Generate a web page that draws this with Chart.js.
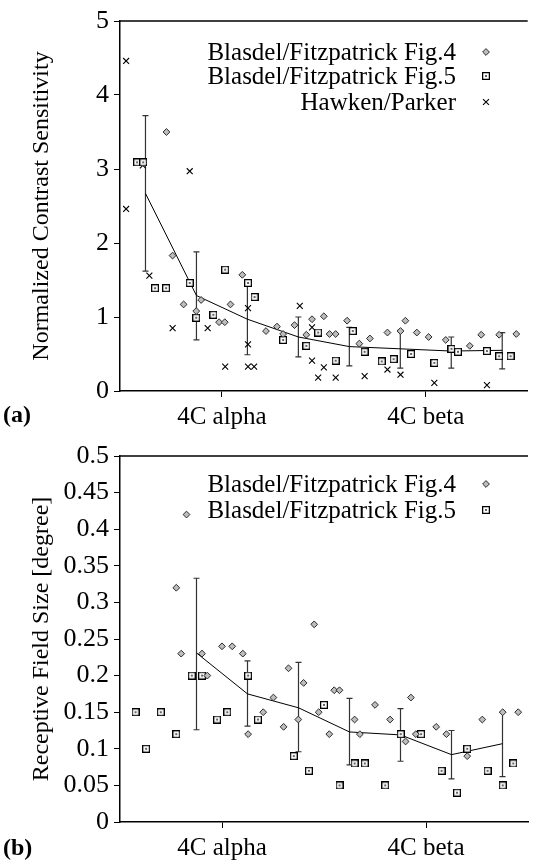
<!DOCTYPE html>
<html>
<head>
<meta charset="utf-8">
<script src="https://cdn.jsdelivr.net/npm/chart.js@4.4.0/dist/chart.umd.min.js"></script>
<style>
body { margin: 0; background: #fff; }
.box { position: relative; width: 533px; height: 432px; }
</style>
</head>
<body>
<div class="box"><canvas id="chart_a" width="533" height="432"></canvas></div>
<div class="box"><canvas id="chart_b" width="533" height="432"></canvas></div>
<script>
// x axis runs 0..1, the two layers sit at 0.25 and 0.75
var tick_pos = [0.25, 0.75];
var tick_labels = ['4C alpha', '4C beta'];
var bin_x = [0.0625, 0.1875, 0.3125, 0.4375, 0.5625, 0.6875, 0.8125, 0.9375];

// ---- (a) contrast sensitivity ----
var a_fig4_x = [0.114, 0.129, 0.156, 0.187, 0.199, 0.243, 0.257, 0.271, 0.300, 0.358, 0.385, 0.400, 0.428, 0.457, 0.471, 0.500,
	0.514, 0.529, 0.557, 0.587, 0.613, 0.656, 0.688, 0.700, 0.728, 0.757, 0.799, 0.858, 0.886, 0.930, 0.972];
var a_fig4_y = [3.50, 1.83, 1.17, 1.08, 1.23, 0.93, 0.93, 1.17, 1.57, 0.81, 0.87, 0.77, 0.89, 0.76, 0.97, 1.01,
	0.77, 0.77, 0.95, 0.64, 0.71, 0.79, 0.81, 0.95, 0.79, 0.73, 0.69, 0.61, 0.76, 0.76, 0.77];
var a_fig5_x = [0.042, 0.057, 0.086, 0.113, 0.171, 0.187, 0.229, 0.258, 0.314, 0.330, 0.400, 0.457, 0.486, 0.529, 0.571, 0.600,
	0.642, 0.671, 0.714, 0.771, 0.813, 0.829, 0.900, 0.930, 0.958];
var a_fig5_y = [3.09, 3.09, 1.39, 1.39, 1.46, 0.99, 1.03, 1.64, 1.46, 1.27, 0.69, 0.61, 0.79, 0.41, 0.81, 0.53,
	0.40, 0.43, 0.50, 0.38, 0.57, 0.53, 0.54, 0.47, 0.47];
var a_hawken_x = [0.015, 0.015, 0.056, 0.072, 0.129, 0.171, 0.215, 0.258, 0.314, 0.314, 0.314, 0.329, 0.441, 0.471, 0.471, 0.486,
	0.500, 0.529, 0.600, 0.656, 0.688, 0.771, 0.900];
var a_hawken_y = [4.46, 2.46, 3.05, 1.56, 0.85, 2.97, 0.85, 0.33, 1.12, 0.63, 0.33, 0.33, 1.15, 0.86, 0.41, 0.18,
	0.32, 0.18, 0.20, 0.29, 0.22, 0.11, 0.08];
var a_mean = [2.67, 1.29, 0.97, 0.73, 0.60, 0.57, 0.54, 0.55];
var a_err_low = [1.62, 0.69, 0.49, 0.46, 0.34, 0.31, 0.31, 0.30];
var a_err_high = [3.72, 1.88, 1.46, 1.00, 0.86, 0.82, 0.73, 0.79];

// ---- (b) receptive field size ----
var b_fig4_x = [0.163, 0.138, 0.476, 0.250, 0.275, 0.150, 0.201, 0.214, 0.301, 0.314, 0.351, 0.376, 0.401, 0.413, 0.437, 0.450,
	0.487, 0.513, 0.525, 0.538, 0.575, 0.588, 0.625, 0.662, 0.700, 0.713, 0.725, 0.775, 0.800, 0.851, 0.888, 0.938, 0.976];
var b_fig4_y = [0.42, 0.32, 0.27, 0.24, 0.24, 0.23, 0.23, 0.20, 0.23, 0.12, 0.15, 0.17, 0.13, 0.21, 0.14, 0.19,
	0.15, 0.12, 0.18, 0.18, 0.14, 0.12, 0.16, 0.14, 0.11, 0.17, 0.12, 0.13, 0.12, 0.09, 0.14, 0.15, 0.15];
var b_fig5_x = [0.038, 0.064, 0.100, 0.138, 0.176, 0.201, 0.238, 0.263, 0.314, 0.338, 0.426, 0.463, 0.500, 0.538, 0.575, 0.600,
	0.650, 0.688, 0.738, 0.788, 0.826, 0.851, 0.901, 0.938, 0.964];
var b_fig5_y = [0.15, 0.10, 0.15, 0.12, 0.20, 0.20, 0.14, 0.15, 0.20, 0.14, 0.09, 0.07, 0.16, 0.05, 0.08, 0.08,
	0.05, 0.12, 0.12, 0.07, 0.04, 0.10, 0.07, 0.05, 0.08];
var b_mean = [0.231, 0.175, 0.156, 0.123, 0.119, 0.092, 0.107];
var b_err_low = [0.126, 0.131, 0.096, 0.078, 0.083, 0.059, 0.062];
var b_err_high = [0.333, 0.220, 0.218, 0.169, 0.155, 0.125, 0.150];

var serif = '"Liberation Serif", "DejaVu Serif", serif';

function to_points(xs, ys) {
	var arr = [];
	for (var i = 0; i < xs.length; i++) arr.push({ x: xs[i], y: ys[i] });
	return arr;
}

// small open square with a dot in the middle
var square_img = document.createElement('canvas');
square_img.width = 8;
square_img.height = 8;
var sq = square_img.getContext('2d');
sq.fillStyle = '#fff';
sq.fillRect(0, 0, 8, 8);
sq.strokeStyle = '#000';
sq.lineWidth = 1.3;
sq.strokeRect(0.6, 0.6, 6.8, 6.8);
sq.fillStyle = '#666';
sq.fillRect(3, 3, 2, 2);

var diamond_style = { pointStyle: 'rectRot', pointRadius: 3.4, backgroundColor: '#bdbdbd', borderColor: '#2a2a2a', pointBorderWidth: 1 };
var square_style = { pointStyle: square_img, pointRadius: 4, backgroundColor: '#fff', borderColor: '#000', pointBorderWidth: 0 };
var cross_style = { pointStyle: 'crossRot', pointRadius: 4.2, backgroundColor: '#000', borderColor: '#000', pointBorderWidth: 1.1 };

function make_set(label, xs, ys, style) {
	return {
		label: label,
		data: to_points(xs, ys),
		pointStyle: style.pointStyle,
		pointRadius: style.pointRadius,
		pointBackgroundColor: style.backgroundColor,
		pointBorderColor: style.borderColor,
		pointBorderWidth: style.pointBorderWidth,
		showLine: false
	};
}

function mean_set(xs, ys) {
	return {
		label: 'mean',
		in_legend: false,
		data: to_points(xs, ys),
		showLine: true,
		borderColor: '#000',
		borderWidth: 1,
		pointRadius: 0,
		tension: 0
	};
}

// error bars with caps
var errbar_plugin = {
	id: 'errbars',
	beforeDatasetsDraw: function(chart, args, opts) {
		var ctx = chart.ctx, xs = chart.scales.x, ys = chart.scales.y;
		ctx.save();
		ctx.strokeStyle = '#333';
		ctx.lineWidth = 1.2;
		for (var i = 0; i < opts.x.length; i++) {
			var px = xs.getPixelForValue(opts.x[i]);
			var lo = ys.getPixelForValue(opts.low[i]);
			var hi = ys.getPixelForValue(opts.high[i]);
			ctx.beginPath();
			ctx.moveTo(px, lo); ctx.lineTo(px, hi);
			ctx.moveTo(px - 3, lo); ctx.lineTo(px + 3, lo);
			ctx.moveTo(px - 3, hi); ctx.lineTo(px + 3, hi);
			ctx.stroke();
		}
		ctx.restore();
	}
};

// top frame line, panel letter and the legend on the right
var frame_plugin = {
	id: 'frame',
	afterDraw: function(chart, args, opts) {
		var ctx = chart.ctx, area = chart.chartArea;
		ctx.save();
		ctx.strokeStyle = '#000';
		ctx.lineWidth = 1.5;
		ctx.beginPath();
		ctx.moveTo(area.left, area.top);
		ctx.lineTo(area.right, area.top);
		ctx.stroke();

		ctx.fillStyle = '#000';
		ctx.font = 'bold 24px ' + serif;
		ctx.textAlign = 'left';
		ctx.textBaseline = 'middle';
		ctx.fillText(opts.letter, 3, opts.letter_y);

		ctx.font = '25px ' + serif;
		ctx.textAlign = 'right';
		var row = 0;
		chart.data.datasets.forEach(function(ds) {
			if (ds.in_legend === false) return;
			var y = opts.rows_y[row++];
			ctx.fillStyle = '#000';
			ctx.fillText(ds.label, opts.text_right, y + 1);
			ctx.fillStyle = ds.pointBackgroundColor;
			ctx.strokeStyle = ds.pointBorderColor;
			ctx.lineWidth = ds.pointBorderWidth;
			Chart.helpers.drawPoint(ctx, {
				pointStyle: ds.pointStyle,
				radius: ds.pointRadius,
				borderWidth: ds.pointBorderWidth,
				rotation: 0
			}, opts.marker_x, y);
		});
		ctx.restore();
	}
};

function make_options(y_max, y_step, y_title, top_pad, x_height, letter, letter_y, rows_y, err) {
	return {
		responsive: false,
		animation: false,
		layout: { padding: { top: top_pad, right: 0, left: 0, bottom: 0 } },
		plugins: {
			legend: { display: false },
			tooltip: { enabled: false },
			errbars: err,
			frame: { letter: letter, letter_y: letter_y, rows_y: rows_y, text_right: 456, marker_x: 486 }
		},
		scales: {
			x: {
				type: 'linear',
				min: 0,
				max: 1,
				afterBuildTicks: function(scale) {
					scale.ticks = tick_pos.map(function(v) { return { value: v }; });
				},
				afterFit: function(scale) { scale.height = x_height; },
				ticks: {
					autoSkip: false,
					maxRotation: 0,
					padding: 5,
					color: '#000',
					font: { family: serif, size: 25 },
					callback: function(value) { return tick_labels[tick_pos.indexOf(value)]; }
				},
				grid: { drawOnChartArea: false, tickLength: 6, color: '#000', lineWidth: 1 },
				border: { color: '#000', width: 1.5 }
			},
			y: {
				min: 0,
				max: y_max,
				afterFit: function(scale) { scale.width = 120; },
				ticks: {
					stepSize: y_step,
					padding: 5,
					color: '#000',
					font: { family: serif, size: 26 },
					callback: function(value) { return String(Number(value.toFixed(2))); }
				},
				title: {
					display: true,
					text: y_title,
					color: '#000',
					font: { family: serif, size: 24 },
					padding: { top: 27, bottom: 0 }
				},
				grid: { drawOnChartArea: false, tickLength: 6, color: '#000', lineWidth: 1 },
				border: { color: '#000', width: 1.5 }
			}
		}
	};
}

var context_a = document.getElementById('chart_a').getContext('2d');
var chart_a = new Chart(context_a, {
	type: 'scatter',
	data: {
		datasets: [
			make_set('Blasdel/Fitzpatrick Fig.4', a_fig4_x, a_fig4_y, diamond_style),
			make_set('Blasdel/Fitzpatrick Fig.5', a_fig5_x, a_fig5_y, square_style),
			make_set('Hawken/Parker', a_hawken_x, a_hawken_y, cross_style),
			mean_set(bin_x, a_mean)
		]
	},
	options: make_options(5, 1, 'Normalized Contrast Sensitivity', 21, 41, '(a)', 416, [52, 76, 102],
		{ x: bin_x, low: a_err_low, high: a_err_high }),
	plugins: [errbar_plugin, frame_plugin]
});

var context_b = document.getElementById('chart_b').getContext('2d');
var chart_b = new Chart(context_b, {
	type: 'scatter',
	data: {
		datasets: [
			make_set('Blasdel/Fitzpatrick Fig.4', b_fig4_x, b_fig4_y, diamond_style),
			make_set('Blasdel/Fitzpatrick Fig.5', b_fig5_x, b_fig5_y, square_style),
			mean_set(bin_x.slice(1), b_mean)
		]
	},
	options: make_options(0.5, 0.05, 'Receptive Field Size [degree]', 24, 42, '(b)', 417, [52, 78],
		{ x: bin_x.slice(1), low: b_err_low, high: b_err_high }),
	plugins: [errbar_plugin, frame_plugin]
});
</script>
</body>
</html>
